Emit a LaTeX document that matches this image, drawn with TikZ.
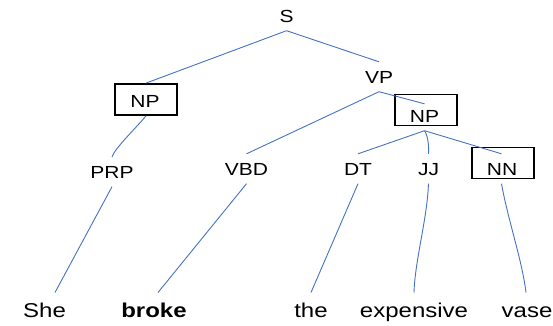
\documentclass[tikz,border=0pt]{standalone}
\usepackage{fontspec}
\setmainfont{Liberation Sans}[FakeStretch=1.2]
\definecolor{edgeblue}{RGB}{68,114,196}
\begin{document}
\begin{tikzpicture}[x=1pt,y=-1pt,
  lab/.style={font=\fontsize{17.5}{20}\selectfont, inner xsep=0pt, inner ysep=8.5pt,
              text height=12.5pt, text depth=0pt, anchor=base},
  word/.style={font=\fontsize{20}{24}\selectfont, inner xsep=0pt, inner ysep=10pt,
              text height=14.3pt, text depth=0pt, anchor=base},
  box/.style={draw=black, line width=1.8pt, minimum width=62pt, minimum height=31pt, inner sep=0pt},
  edge/.style={draw=edgeblue, line width=0.9pt}]
\useasboundingbox (0,0) rectangle (553,325);

% phrase and tag labels
\node[lab] (s)   at (286.5,22)  {S};
\node[lab] (vp)  at (379,83)    {VP};
\node[box] (np1box) at (146,99.5) {};
\node[lab] (np1) at (145,107)   {NP};
\node[box] (np2box) at (426,110) {};
\node[lab] (np2) at (424.5,122) {NP};
\node[lab] (prp) at (112,178)   {PRP};
\node[lab] (vbd) at (246.5,175) {VBD};
\node[lab] (dt)  at (358,175)   {DT};
\node[lab] (jj)  at (428.5,175) {JJ};
\node[box] (nnbox) at (503,163) {};
\node[lab] (nn)  at (502,175)   {NN};

% words of the sentence
\node[word] (she)  at (44.5,317) {She};
\node[word] (broke) at (154,317) {\bfseries broke};
\node[word] (the)  at (311,317)  {the};
\node[word] (exp)  at (414,317)  {expensive};
\node[word] (vase) at (527,317)  {vase};

% tree branches
\draw[edge] (s.south) -- (np1box.north);
\draw[edge] (s.south) -- (vp.north);
\draw[edge] (vp.south) -- (vbd.north);
\draw[edge] (vp.south) -- ([yshift=-3pt]np2.north);
\draw[edge] (np1box.south) .. controls (136,128) and (115,148) .. (prp.north);
\draw[edge] (np2.south) -- (dt.north);
\draw[edge] (np2.south) .. controls (428,136) and (429,146) .. (jj.north);
\draw[edge] (np2.south) -- ([xshift=-0.5pt]nn.north);
\draw[edge] (prp.south) -- ([xshift=10.5pt]she.north);
\draw[edge] (vbd.south) -- ([xshift=4pt]broke.north);
\draw[edge] (dt.south) -- (the.north);
\draw[edge] (jj.south) .. controls (427,220) and (415,260) .. (exp.north);
\draw[edge] ([xshift=-0.5pt]nn.south) .. controls (508,220) and (522,260) .. ([xshift=-1pt]vase.north);
\end{tikzpicture}
\end{document}
